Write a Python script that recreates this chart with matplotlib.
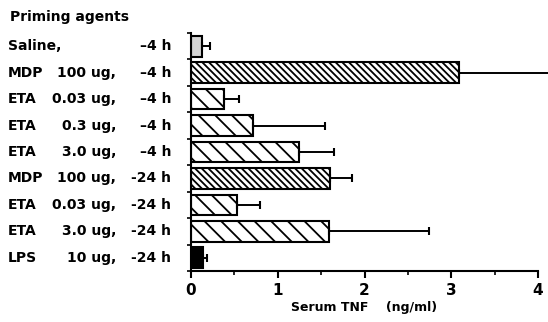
import matplotlib
matplotlib.use("Agg")
import matplotlib.pyplot as plt
import matplotlib.transforms as mtransforms
import numpy as np

plt.rcParams['font.family'] = ['DejaVu Sans']
plt.rcParams['font.weight'] = 'bold'
plt.rcParams['hatch.linewidth'] = 1.3

names = ["Saline,", "MDP", "ETA", "ETA", "ETA", "MDP", "ETA", "ETA", "LPS"]
doses = ["", "100 ug,", "0.03 ug,", "0.3 ug,", "3.0 ug,", "100 ug,", "0.03 ug,", "3.0 ug,", "10 ug,"]
times = ["\u20134 h", "\u20134 h", "\u20134 h", "\u20134 h", "\u20134 h", "-24 h", "-24 h", "-24 h", "-24 h"]
tnf = [0.13, 3.09, 0.38, 0.71, 1.25, 1.60, 0.53, 1.59, 0.14]
tnf_hi = [0.22, 4.2, 0.55, 1.55, 1.65, 1.86, 0.79, 2.74, 0.18]
kinds = ["dot", "dense", "sparse", "sparse", "sparse", "dense", "sparse", "sparse", "solid"]

styles = {
    "dot": dict(facecolor="#d4d4d4", hatch=None),
    "dense": dict(facecolor="white", hatch="\\\\\\\\\\"),
    "sparse": dict(facecolor="white", hatch="\\\\"),
    "solid": dict(facecolor="black", hatch=None),
}

fig = plt.figure(figsize=(5.48, 3.22), dpi=100)
ax = fig.add_axes([0.3485, 0.1584, 0.6333, 0.7391])

y = np.arange(len(tnf))
for i in range(len(tnf)):
    st = styles[kinds[i]]
    ax.barh(y[i], tnf[i], height=0.78, facecolor=st["facecolor"], hatch=st["hatch"],
            edgecolor="black", linewidth=1.5, zorder=2)
    ax.errorbar(tnf[i], y[i], xerr=[[0], [tnf_hi[i] - tnf[i]]], fmt="none",
                ecolor="black", elinewidth=1.4, capsize=3, capthick=1.5,
                clip_on=False, zorder=3)

ax.set_ylim(len(tnf) - 0.5, -0.5)
ax.set_xlim(0, 4)
ax.set_xticks([0, 1, 2, 3, 4])
ax.set_xticks(np.arange(0.5, 4, 1), minor=True)
ax.set_yticks(np.arange(-0.5, len(tnf), 1))
ax.set_yticklabels([])
ax.tick_params(axis="x", direction="out", length=5, width=1.5, labelsize=11, pad=4)
ax.tick_params(axis="x", which="minor", direction="out", length=3, width=1.2)
ax.tick_params(axis="y", direction="out", length=3, width=1.2)
for lab in ax.get_xticklabels():
    lab.set_fontweight("bold")
for s in ["top", "right"]:
    ax.spines[s].set_visible(False)
ax.spines["left"].set_linewidth(1.5)
ax.spines["bottom"].set_linewidth(1.5)

ax.set_xlabel("Serum TNF    (ng/ml)", fontsize=9, fontweight="bold", labelpad=2)

trans = mtransforms.blended_transform_factory(fig.transFigure, ax.transData)
for i in range(len(tnf)):
    ax.text(8 / 548, y[i], names[i], transform=trans, ha="left", va="center", fontsize=10)
    ax.text(116 / 548, y[i], doses[i], transform=trans, ha="right", va="center", fontsize=10)
    ax.text(171 / 548, y[i], times[i], transform=trans, ha="right", va="center", fontsize=10)

fig.text(10 / 548, 1 - 17 / 322, "Priming agents", ha="left", va="center", fontsize=10)

fig.savefig("out.png", dpi=100)
